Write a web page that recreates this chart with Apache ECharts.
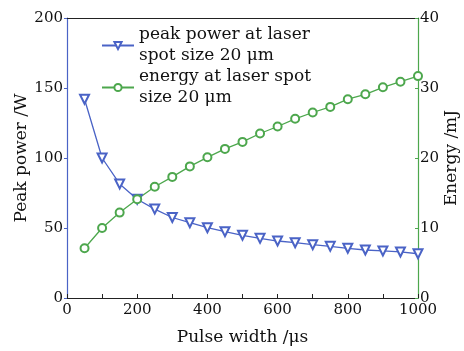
<!DOCTYPE html>
<html>
<head>
<meta charset="utf-8">
<script src="https://cdn.jsdelivr.net/npm/echarts@6/dist/echarts.min.js"></script>
<style>
  html, body { margin: 0; padding: 0; background: #fff; }
  #chart { width: 464px; height: 351px; }
</style>
</head>
<body>
<div id="chart"></div>
<script>
// pulse widths (us)
var pulseWidth = [50, 100, 150, 200, 250, 300, 350, 400, 450, 500,
  550, 600, 650, 700, 750, 800, 850, 900, 950, 1000];
// peak power (W), left axis
var peakPower = [142, 100, 81.5, 70.5, 63.5, 57.5, 53.8, 50.2, 47.4, 44.8,
  42.6, 40.7, 39.5, 38.1, 36.9, 35.5, 34.3, 33.6, 32.9, 31.6];
// pulse energy (mJ), right axis
var energy = [7.1, 10.0, 12.2, 14.1, 15.9, 17.3, 18.8, 20.1, 21.3, 22.3,
  23.5, 24.5, 25.6, 26.5, 27.3, 28.4, 29.1, 30.1, 30.9, 31.7];

var BLUE = "#4a63c6";
var GREEN = "#4da74d";
var INK = "#222";
var FONT = "DejaVu Serif";

function pairs(xs, ys) {
  return xs.map(function (x, i) { return [x, ys[i]]; });
}

var chart = echarts.init(document.getElementById("chart"), null, { renderer: "canvas" });

chart.setOption({
  animation: false,
  textStyle: { fontFamily: FONT },
  grid: { left: 67, right: 46, top: 18, bottom: 53, outerBoundsMode: "none", containLabel: false },
  legend: {
    left: 96,
    top: 9,
    orient: "vertical",
    itemWidth: 32,
    itemHeight: 9,
    itemGap: -21,
    textStyle: {
      fontFamily: FONT, fontSize: 17, color: "#111", lineHeight: 21,
      padding: [21, 0, 0, 0]
    },
    data: ["peak power at laser\nspot size 20 \u03bcm", "energy at laser spot\nsize 20 \u03bcm"]
  },
  xAxis: [{
    type: "value",
    min: 0, max: 1000, interval: 200,
    name: "Pulse width /\u03bcs",
    nameLocation: "middle",
    nameGap: 31,
    nameMoveOverlap: false,
    nameTextStyle: { fontFamily: FONT, fontSize: 17, color: "#111" },
    axisLine: { show: true, onZero: false, lineStyle: { color: INK, width: 1.2 } },
    axisTick: { show: true, inside: true, length: 4, lineStyle: { color: INK } },
    minorTick: { show: true, splitNumber: 2, length: 4, lineStyle: { color: INK } },
    axisLabel: { fontFamily: FONT, fontSize: 15, color: "#111", margin: 5,
      formatter: function (v) { return String(v); } },
    splitLine: { show: false }
  }, {
    type: "value",
    position: "top",
    min: 0, max: 1000,
    axisLine: { show: true, onZero: false, lineStyle: { color: INK, width: 1.2 } },
    axisTick: { show: false },
    axisLabel: { show: false },
    splitLine: { show: false }
  }],
  yAxis: [{
    type: "value",
    min: 0, max: 200, interval: 50,
    name: "Peak power /W",
    nameLocation: "middle",
    nameGap: 37,
    nameMoveOverlap: false,
    nameTextStyle: { fontFamily: FONT, fontSize: 17, color: "#111" },
    axisLine: { show: true, onZero: false, lineStyle: { color: BLUE, width: 1.2 } },
    axisTick: { show: true, length: 3, lineStyle: { color: BLUE } },
    axisLabel: { fontFamily: FONT, fontSize: 15, color: "#111", margin: 4 },
    splitLine: { show: false }
  }, {
    type: "value",
    min: 0, max: 40, interval: 10,
    position: "right",
    name: "Energy /mJ",
    nameLocation: "middle",
    nameGap: 25,
    nameRotate: 90,
    nameMoveOverlap: false,
    nameTextStyle: { fontFamily: FONT, fontSize: 17, color: "#111" },
    axisLine: { show: true, onZero: false, lineStyle: { color: GREEN, width: 1.2 } },
    axisTick: { show: true, inside: true, length: 3, lineStyle: { color: GREEN } },
    axisLabel: { fontFamily: FONT, fontSize: 15, color: "#111", margin: 2 },
    splitLine: { show: false }
  }],
  series: [{
    name: "peak power at laser\nspot size 20 \u03bcm",
    type: "line",
    xAxisIndex: 0,
    yAxisIndex: 0,
    data: pairs(pulseWidth, peakPower),
    symbol: "emptyTriangle",
    symbolRotate: 180,
    symbolSize: 9,
    lineStyle: { color: BLUE, width: 1.3 },
    itemStyle: { color: BLUE, borderWidth: 1.2 }
  }, {
    name: "energy at laser spot\nsize 20 \u03bcm",
    type: "line",
    xAxisIndex: 0,
    yAxisIndex: 1,
    data: pairs(pulseWidth, energy),
    symbol: "emptyCircle",
    symbolSize: 8,
    lineStyle: { color: GREEN, width: 1.3 },
    itemStyle: { color: GREEN, borderWidth: 1.2 }
  }]
});
</script>
</body>
</html>
